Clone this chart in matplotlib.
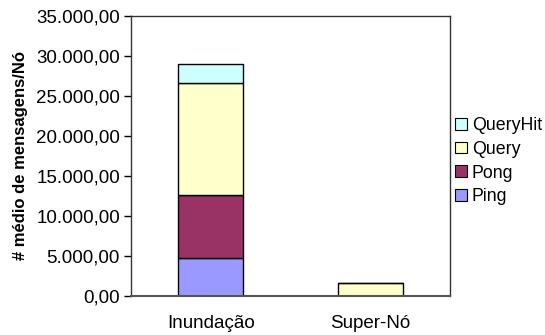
import matplotlib
matplotlib.use("Agg")
import matplotlib.pyplot as plt
import numpy as np
from matplotlib.ticker import FuncFormatter

plt.rcParams['font.family'] = ['Liberation Sans', 'DejaVu Sans']

categories = ["Inundação", "Super-Nó"]
series_names = ["Ping", "Pong", "Query", "QueryHit"]
ping = [4700, 10]
pong = [7900, 10]
query = [14050, 1550]
queryhit = [2300, 40]
colors = ["#9999FF", "#993366", "#FFFFCC", "#CCFFFF"]

fig = plt.figure(figsize=(5.45, 3.35), dpi=100)
ax = fig.add_axes([131/545, 1 - 296/335, (450 - 131)/545, (296 - 16)/335])

x = np.arange(len(categories))
bottom = np.zeros(len(categories))
handles = []
for name, vals, c in zip(series_names, [ping, pong, query, queryhit], colors):
    b = ax.bar(x, vals, width=0.41, bottom=bottom, color=c, edgecolor="black",
               linewidth=1.0, label=name)
    handles.append(b)
    bottom += np.array(vals)

ax.set_xlim(-0.5, 1.5)
ax.set_ylim(0, 35000)
ax.set_yticks(np.arange(0, 35001, 5000))

def fmt(v, pos):
    s = f"{v:,.2f}"
    return s.replace(",", "X").replace(".", ",").replace("X", ".")

ax.yaxis.set_major_formatter(FuncFormatter(fmt))
ax.set_xticks(x)
ax.set_xticklabels(categories)
ax.tick_params(axis='y', length=5, width=1, direction='out', labelsize=13.5, pad=3)
ax.tick_params(axis='x', length=0, labelsize=13.5, pad=14)
for s in ax.spines.values():
    s.set_color("#333333")
    s.set_linewidth(1.0)
ax.spines['bottom'].set_color("#555555")
ax.spines['bottom'].set_linewidth(1.5)

ax.set_ylabel("# médio de mensagens/Nó", fontsize=12, fontweight='bold', labelpad=6)

leg = fig.legend(handles[::-1], series_names[::-1], loc='upper left',
                 bbox_to_anchor=(455/545, 1 - 117/335), frameon=False,
                 fontsize=12.8, handlelength=0.65, handleheight=0.65,
                 handletextpad=0.3, labelspacing=0.38, borderpad=0.0,
                 borderaxespad=0.0)
for h in leg.legend_handles:
    h.set_linewidth(0.8)

fig.savefig("out.png", dpi=100)
